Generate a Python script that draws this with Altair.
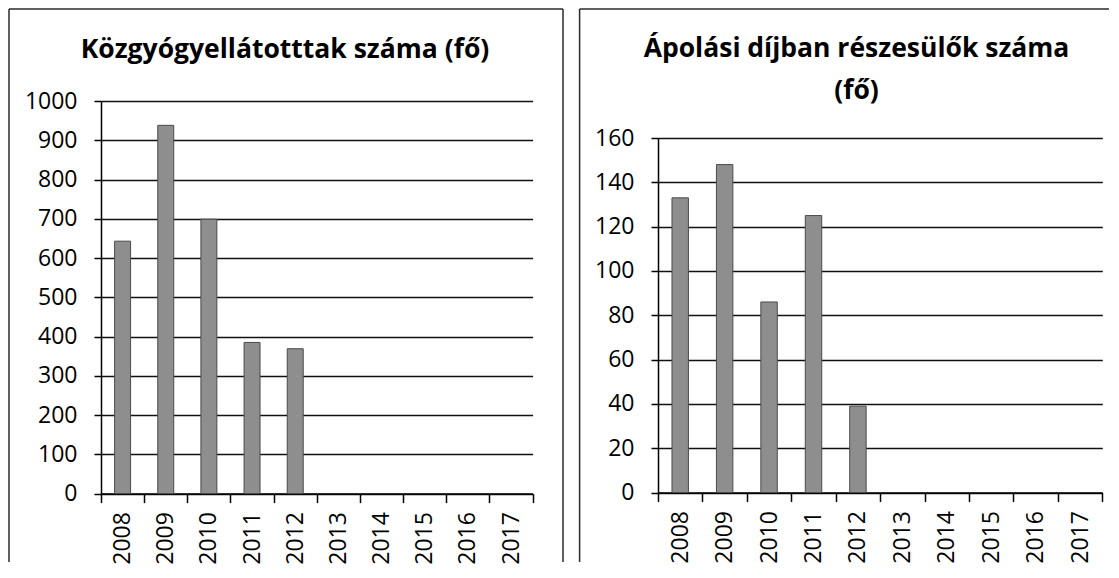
import altair as alt
import pandas as pd

# ---- data ----
years = ["2008", "2009", "2010", "2011", "2012", "2013", "2014", "2015", "2016", "2017"]
data_years = ["2008", "2009", "2010", "2011", "2012"]
kozgyogy = [643, 938, 699, 385, 369]
apolasi = [133, 148, 86, 125, 39]
left_title = "Közgyógyellátotttak száma (fő)"
right_title = ["Ápolási díjban részesülők száma", "(fő)"]
left_ticks = [0, 100, 200, 300, 400, 500, 600, 700, 800, 900, 1000]
right_ticks = [0, 20, 40, 60, 80, 100, 120, 140, 160]

FONT = "Open Sans"
BAR_FILL = "#8e8e8e"
BAR_STROKE = "#4a4a4a"
FRAME = "#2a2a2a"
LABEL_SIZE = 23


def panel(values, ticks, ymax, title_text, w, h, yrange, title_x, title_y,
          fx1, fy1, fx2, fy2, right_side):
    df = pd.DataFrame({"year": data_years, "value": values})
    bars = alt.Chart(df).mark_bar(
        width={"band": 0.37}, fill=BAR_FILL, stroke=BAR_STROKE, strokeWidth=1
    ).encode(
        x=alt.X("year:N",
                scale=alt.Scale(domain=years, paddingInner=0, paddingOuter=0),
                axis=alt.Axis(title=None, labelAngle=270, tickBand="extent",
                              tickSize=9, labelPadding=9, grid=False,
                              labelFont=FONT, labelFontSize=LABEL_SIZE,
                              labelColor="black",
                              domainColor="black", domainWidth=1.5,
                              tickColor="black", tickWidth=1.5)),
        y=alt.Y("value:Q",
                scale=alt.Scale(domain=[0, ymax], nice=False, range=yrange),
                axis=alt.Axis(title=None, values=ticks, grid=True, format="d",
                              gridColor="#111111", gridWidth=1.3,
                              tickSize=7, labelPadding=17,
                              labelFont=FONT, labelFontSize=LABEL_SIZE,
                              labelColor="black",
                              domainColor="black", domainWidth=1.5,
                              tickColor="black", tickWidth=1.5)),
    )
    one = alt.Data(values=[{}])
    title = alt.Chart(one).mark_text(
        font=FONT, fontSize=26.5, fontWeight="bold", align="center",
        baseline="alphabetic", lineHeight=42, color="black"
    ).encode(x=alt.value(title_x), y=alt.value(title_y), text=alt.value(title_text))
    rule_style = dict(color=FRAME, strokeWidth=1.5)
    left_rule = alt.Chart(one).mark_rule(**rule_style).encode(
        x=alt.value(fx1), y=alt.value(fy1), y2=alt.value(fy2))
    top_rule = alt.Chart(one).mark_rule(**rule_style).encode(
        x=alt.value(fx1), x2=alt.value(fx2), y=alt.value(fy1))
    layers = [bars, title, left_rule, top_rule]
    if right_side:
        layers.append(alt.Chart(one).mark_rule(**rule_style).encode(
            x=alt.value(fx2), y=alt.value(fy1), y2=alt.value(fy2)))
    return alt.layer(*layers).properties(width=w, height=h)


left = panel(kozgyogy, left_ticks, 1000, left_title, 431.6, 392.6, [392.6, 0],
             184, -42.7, -92, -92, 462, 461, True)
right = panel(apolasi, right_ticks, 160, right_title, 444.3, 391.55, [391.55, 37.0],
              198.5, -43.75, -78.4, -92, 451, 461, False)

chart = alt.hconcat(left, right, spacing=14).properties(
    padding=0
).configure_view(stroke=None)

chart.save("out.html", embed_options={"renderer": "svg", "actions": False})
